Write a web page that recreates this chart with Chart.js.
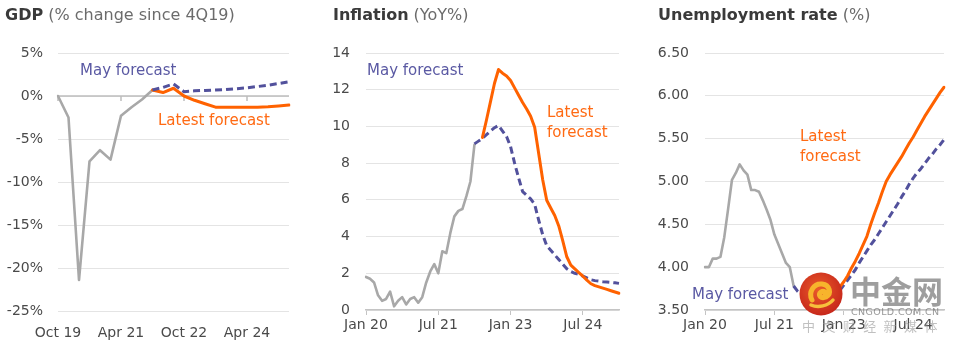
<!DOCTYPE html>
<html><head><meta charset="utf-8">
<script src="https://cdn.jsdelivr.net/npm/chart.js@4.4.1/dist/chart.umd.min.js"></script>
<style>
html,body{margin:0;padding:0;background:#fff;}
body{width:956px;height:344px;position:relative;overflow:hidden;font-family:"DejaVu Sans",sans-serif;}
canvas{position:absolute;top:0;}
.t{position:absolute;white-space:nowrap;line-height:1;}
.title{font-size:16px;color:#6b6b6b;}
.title b{color:#3a3a3a;}
.may{color:#5a59a3;font-size:15px;}
.lat{color:#ff6a13;font-size:15px;}
.wm1{font-family:"Noto Sans CJK SC",sans-serif;font-weight:700;font-size:31px;color:rgba(125,125,125,0.75);}
.wm2{font-size:9.5px;letter-spacing:0.4px;color:rgba(110,110,110,0.7);}
.wm3{font-family:"Noto Sans CJK SC",sans-serif;font-size:13px;letter-spacing:7.4px;color:rgba(150,150,150,0.6);}
</style></head><body>
<canvas id="c1" style="left:0" width="300" height="344"></canvas>
<canvas id="c2" style="left:310px" width="320" height="344"></canvas>
<canvas id="c3" style="left:640px" width="316" height="344"></canvas>

<div class="t title" style="left:5px;top:7px"><b>GDP</b> (% change since 4Q19)</div>
<div class="t title" style="left:333px;top:7px"><b>Inflation</b> (YoY%)</div>
<div class="t title" style="left:658px;top:7px"><b>Unemployment rate</b> (%)</div>

<div class="t may" style="left:80px;top:63px">May forecast</div>
<div class="t lat" style="left:158px;top:113px">Latest forecast</div>
<div class="t may" style="left:367px;top:63px">May forecast</div>
<div class="t lat" style="left:547px;top:105px">Latest</div>
<div class="t lat" style="left:547px;top:125px">forecast</div>
<div class="t lat" style="left:800px;top:129px">Latest</div>
<div class="t lat" style="left:800px;top:149px">forecast</div>
<div class="t may" style="left:692px;top:287px">May forecast</div>

<svg style="position:absolute;left:799px;top:272px" width="44" height="44" viewBox="0 0 44 44">
  <defs><radialGradient id="lg" cx="45%" cy="40%" r="60%"><stop offset="0" stop-color="#ea5a2a"/><stop offset="1" stop-color="#c7281b"/></radialGradient></defs>
  <circle cx="22" cy="22" r="21.5" fill="url(#lg)"/>
  <path d="M13 28 C 9 20, 15 11, 23 12 C 31 13, 33 22, 27 25 C 22 27, 18 23, 22 20 C 25 18, 28 21, 26 23" stroke="#f7b42c" stroke-width="5" fill="none" stroke-linecap="round"/>
  <path d="M12 33 C 19 36, 29 34, 34 28" stroke="#f7c03c" stroke-width="3.5" fill="none" stroke-linecap="round"/>
</svg>
<div class="t wm1" style="left:850px;top:274px">中金网</div>
<div class="t wm2" style="left:851px;top:307px">CNGOLD.COM.CN</div>
<div class="t wm3" style="left:802px;top:319px">中文财经新媒体</div>

<script>
// ---------- GDP (quarterly) ----------
const gdpLabels = ['Oct 19','Jan 20','Apr 20','Jul 20','Oct 20','Jan 21','Apr 21','Jul 21','Oct 21','Jan 22','Apr 22','Jul 22','Oct 22','Jan 23','Apr 23','Jul 23','Oct 23','Jan 24','Apr 24','Jul 24','Oct 24','Jan 25','Apr 25'];
const gdpTickLabels = ['Oct 19','Apr 21','Oct 22','Apr 24'];
const gdpActual = [0,-2.5,-21.4,-7.6,-6.3,-7.4,-2.3,-1.3,-0.4,0.7,null,null,null,null,null,null,null,null,null,null,null,null,null];
const gdpMay    = [null,null,null,null,null,null,null,null,null,0.7,1.0,1.4,0.5,0.6,0.65,0.7,0.75,0.85,0.95,1.1,1.25,1.45,1.65];
const gdpLatest = [null,null,null,null,null,null,null,null,null,0.7,0.4,0.9,0.0,-0.5,-0.9,-1.3,-1.3,-1.3,-1.3,-1.3,-1.25,-1.15,-1.05];

// ---------- Inflation (monthly) ----------
const inflMonths = ['Jan 20','Feb 20','Mar 20','Apr 20','May 20','Jun 20','Jul 20','Aug 20','Sep 20','Oct 20','Nov 20','Dec 20',
 'Jan 21','Feb 21','Mar 21','Apr 21','May 21','Jun 21','Jul 21','Aug 21','Sep 21','Oct 21','Nov 21','Dec 21',
 'Jan 22','Feb 22','Mar 22','Apr 22','May 22','Jun 22','Jul 22','Aug 22','Sep 22','Oct 22','Nov 22','Dec 22',
 'Jan 23','Feb 23','Mar 23','Apr 23','May 23','Jun 23','Jul 23','Aug 23','Sep 23','Oct 23','Nov 23','Dec 23',
 'Jan 24','Feb 24','Mar 24','Apr 24','May 24','Jun 24','Jul 24','Aug 24','Sep 24','Oct 24','Nov 24','Dec 24',
 'Jan 25','Feb 25','Mar 25','Apr 25'];
const inflTickLabels = ['Jan 20','Jul 21','Jan 23','Jul 24'];
const inflActual = [1.8,1.7,1.5,0.8,0.5,0.6,1.0,0.2,0.5,0.7,0.3,0.6,0.7,0.4,0.7,1.5,2.1,2.5,2.0,3.2,3.1,4.2,5.1,5.4,5.5,6.2,7.0,9.0,
 null,null,null,null,null,null,null,null,null,null,null,null,null,null,null,null,null,null,null,null,null,null,null,null,null,null,null,null,null,null,null,null,null,null,null,null];
const inflMay = [null,null,null,null,null,null,null,null,null,null,null,null,null,null,null,null,null,null,null,null,null,null,null,null,null,null,null,
 9.05,9.2,9.35,9.55,9.75,9.93,10.05,9.75,9.45,8.9,8.0,7.2,6.45,6.25,6.05,5.75,4.9,4.1,3.5,3.25,3.0,2.75,2.5,2.25,2.1,2.0,1.95,1.85,1.75,1.65,1.6,1.57,1.54,1.52,1.5,1.48,1.45];
const inflLatest = [null,null,null,null,null,null,null,null,null,null,null,null,null,null,null,null,null,null,null,null,null,null,null,null,null,null,null,null,null,
 9.4,10.35,11.35,12.35,13.1,12.9,12.75,12.5,12.1,11.7,11.3,10.95,10.55,9.96,8.53,7.1,5.98,5.56,5.15,4.58,3.77,2.9,2.44,2.24,2.04,1.84,1.63,1.43,1.33,1.26,1.19,1.12,1.05,0.98,0.91];

// ---------- Unemployment (monthly) ----------
const unempMonths = inflMonths.slice(0, 63);
const unempTickLabels = ['Jan 20','Jul 21','Jan 23','Jul 24'];
const unempActual = [4.0,4.0,4.1,4.1,4.12,4.35,4.68,5.02,5.1,5.2,5.13,5.08,4.9,4.9,4.88,4.78,4.67,4.55,4.38,4.27,4.16,4.05,4.0,3.78,
 null,null,null,null,null,null,null,null,null,null,null,null,null,null,null,null,null,null,null,null,null,null,null,null,null,null,null,null,null,null,null,null,null,null,null,null,null,null,null];
const unempMay = [null,null,null,null,null,null,null,null,null,null,null,null,null,null,null,null,null,null,null,null,null,null,null,
 3.78,3.72,3.68,3.65,3.62,3.6,3.6,3.6,3.62,3.64,3.67,3.7,3.73,3.79,3.85,3.91,3.97,4.05,4.12,4.19,4.26,4.32,4.39,4.46,4.53,4.6,4.67,4.74,4.82,4.89,4.97,5.04,5.1,5.15,5.21,5.27,5.32,5.38,5.43,5.49];
const unempLatest = [null,null,null,null,null,null,null,null,null,null,null,null,null,null,null,null,null,null,null,null,null,null,null,null,null,null,null,null,null,
 3.6,3.6,3.62,3.64,3.68,3.73,3.77,3.83,3.9,3.99,4.07,4.16,4.26,4.36,4.5,4.63,4.75,4.88,5.0,5.08,5.15,5.22,5.29,5.37,5.45,5.52,5.6,5.68,5.76,5.83,5.9,5.97,6.04,6.1];

// ---------- styling ----------
const GRAY = '#a8a8a8', ORANGE = '#ff6200', NAVY = '#52519c';
const tickFont = {family: '"DejaVu Sans", sans-serif', size: 14};
const TICK_COLOR = '#4a4a4a';

function sets(actual, may, latest, mayOnTop) {
  return [
    {data: actual, borderColor: GRAY, borderWidth: 2.6, order: 3, spanGaps: false, borderCapStyle: 'round'},
    {data: may, borderColor: NAVY, borderWidth: 3, borderDash: [7, 4], order: mayOnTop ? 1 : 2, borderCapStyle: 'butt'},
    {data: latest, borderColor: ORANGE, borderWidth: 3, order: mayOnTop ? 2 : 1, borderCapStyle: 'round'}
  ];
}

const zeroAxis = {
  id: 'zeroAxis',
  beforeDatasetsDraw(chart) {
    const {ctx, scales: {x, y}} = chart;
    const y0 = y.getPixelForValue(0);
    ctx.save();
    ctx.strokeStyle = '#bdbdbd';
    ctx.lineWidth = 1.5;
    ctx.beginPath();
    ctx.moveTo(x.left, y0); ctx.lineTo(x.right, y0);
    x.ticks.forEach(t => { const px = x.getPixelForValue(t.value); ctx.moveTo(px, y0); ctx.lineTo(px, y0 + 5); });
    ctx.stroke();
    ctx.restore();
  }
};

function build(id, c) {
  return new Chart(document.getElementById(id), {
    type: 'line',
    data: {labels: c.labels, datasets: c.datasets},
    options: {
      responsive: false,
      animation: false,
      layout: {padding: {left: 0, right: c.padRight, top: 53, bottom: 0}},
      plugins: {legend: {display: false}, tooltip: {enabled: false}},
      elements: {point: {radius: 0}, line: {tension: 0, borderJoinStyle: 'round'}},
      scales: {
        x: {
          type: 'category',
          offset: false,
          grid: c.xGrid,
          border: c.xBorder,
          ticks: {autoSkip: false, maxRotation: 0, padding: c.xPad, color: TICK_COLOR, font: tickFont},
          afterBuildTicks: s => { s.ticks = s.ticks.filter(t => c.tickLabels.includes(c.labels[t.value])); },
          afterFit: s => { s.height = c.xH; }
        },
        y: {
          min: c.min, max: c.max,
          ticks: {stepSize: c.step, callback: c.fmt, padding: c.yPad, color: TICK_COLOR, font: tickFont},
          grid: {color: '#e4e4e4', lineWidth: 1, drawTicks: false},
          border: {display: false},
          afterFit: s => { s.width = c.yW; }
        }
      }
    },
    plugins: c.plugins || []
  });
}

build('c1', {
  labels: gdpLabels, tickLabels: gdpTickLabels,
  datasets: sets(gdpActual, gdpMay, gdpLatest, true),
  padRight: 11, yW: 58, xH: 33, yPad: 15, xPad: 6,
  xGrid: {display: false}, xBorder: {display: false},
  min: -25, max: 5, step: 5, fmt: v => v + '%',
  plugins: [zeroAxis]
});

build('c2', {
  labels: inflMonths, tickLabels: inflTickLabels,
  datasets: sets(inflActual, inflMay, inflLatest, false),
  padRight: 11, yW: 56, xH: 34, yPad: 16, xPad: 2,
  xGrid: {drawOnChartArea: false, drawTicks: true, tickLength: 5, color: '#c4c4c4'},
  xBorder: {display: true, color: '#c4c4c4', width: 1.5},
  min: 0, max: 14, step: 2, fmt: v => v
});

build('c3', {
  labels: unempMonths, tickLabels: unempTickLabels,
  datasets: sets(unempActual, unempMay, unempLatest, false),
  padRight: 12, yW: 65, xH: 34, yPad: 16, xPad: 2,
  xGrid: {drawOnChartArea: false, drawTicks: true, tickLength: 5, color: '#c4c4c4'},
  xBorder: {display: true, color: '#c4c4c4', width: 1.5},
  min: 3.5, max: 6.5, step: 0.5, fmt: v => Number(v).toFixed(2)
});
</script>
</body></html>
